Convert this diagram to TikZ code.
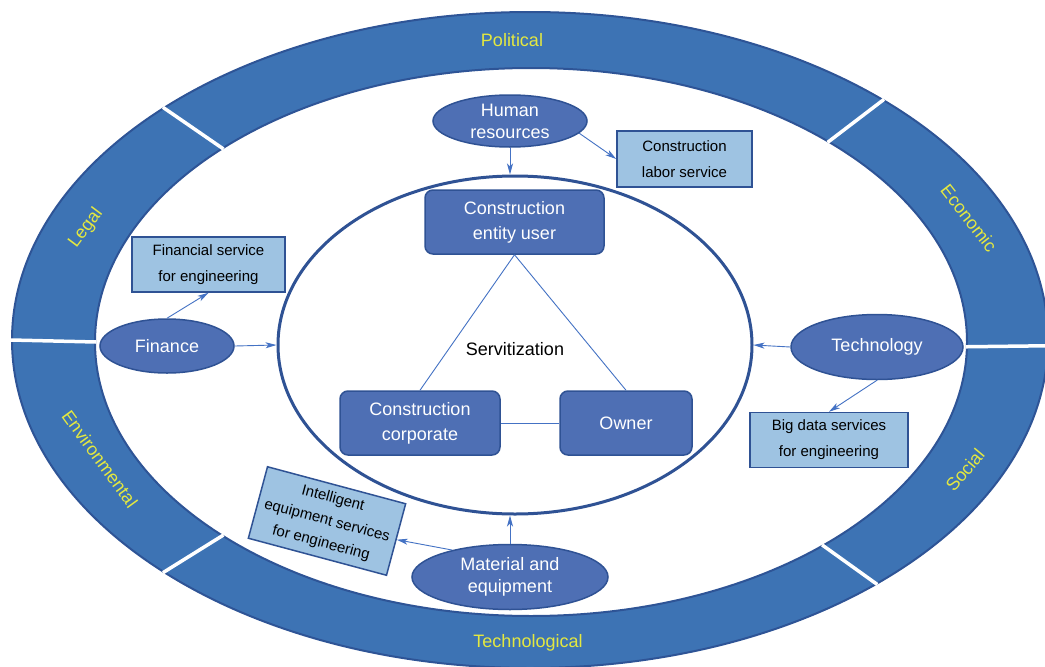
\documentclass[tikz,border=0pt]{standalone}
\usepackage{fontspec}
\setmainfont{Liberation Sans}
\usetikzlibrary{shapes.geometric,arrows.meta}

\definecolor{ringfill}{RGB}{61,115,180}
\definecolor{ringline}{RGB}{46,84,150}
\definecolor{nodefill}{RGB}{78,111,180}
\definecolor{nodeline}{RGB}{47,82,148}
\definecolor{servfill}{RGB}{158,195,226}
\definecolor{linkblue}{RGB}{68,114,196}
\definecolor{ringtext}{RGB}{228,232,64}

\begin{document}
\begin{tikzpicture}[x=1pt,y=-1pt,
  factor/.style={ellipse,fill=nodefill,draw=nodeline,line width=1.5pt,text=white,
    font=\fontsize{18}{22}\selectfont,align=center,inner sep=0pt},
  actor/.style={rectangle,rounded corners=8pt,fill=nodefill,draw=nodeline,line width=1.5pt,
    text=white,font=\fontsize{18}{25}\selectfont,align=center,inner sep=0pt},
  service/.style={rectangle,fill=servfill,draw=nodeline,line width=1.5pt,text=black,
    font=\fontsize{15}{26}\selectfont,align=center,inner sep=0pt},
  link/.style={draw=linkblue,line width=0.9pt,-{Stealth[length=11pt,width=6pt,inset=3pt]}},
  tie/.style={draw=linkblue,line width=0.9pt},
  ringlabel/.style={text=ringtext,font=\fontsize{18}{22}\selectfont,inner sep=0pt},
  gap/.style={draw=white,line width=3.5pt}]

\useasboundingbox (0,0) rectangle (1045,667);

% outer ring of environment factors
\fill[ringfill,draw=ringline,line width=2pt] (530,340) ellipse [x radius=518pt,y radius=328pt];
\fill[white,draw=ringline,line width=2pt] (531,342) ellipse [x radius=436pt,y radius=274pt];

% white separators across the ring
\foreach \t in {135,47,225,312,180,-1}
  \draw[gap] ({530+519*cos(\t)},{340-329*sin(\t)}) -- ({531+435*cos(\t)},{342-273*sin(\t)});

% ring labels
\node[ringlabel] (political) at (512,40) {Political};
\node[ringlabel,rotate=-52] (economic) at (969,218) {Economic};
\node[ringlabel,rotate=50] (social) at (965,470) {Social};
\node[ringlabel] (technological) at (528,643) {Technological};
\node[ringlabel,rotate=-54] (environmental) at (100,459) {Environmental};
\node[ringlabel,rotate=53] (legal) at (86,228) {Legal};

% central servitization ellipse
\node[ellipse,draw=nodeline,line width=3pt,fill=white,minimum width=474pt,minimum height=338pt,inner sep=0pt] (core) at (515,345) {};
\node[font=\fontsize{18}{22}\selectfont,inner sep=0pt] (serv) at (515,349) {Servitization};

% actors inside
\node[actor,minimum width=179pt,minimum height=64pt] (user) at (514.5,222) {Construction\\entity user};
\node[actor,minimum width=160pt,minimum height=64pt] (corp) at (420,423) {Construction\\corporate};
\node[actor,minimum width=132pt,minimum height=64pt] (owner) at (626,423) {Owner};

\draw[tie] (user.south) -- (corp.north);
\draw[tie] (user.south) -- (owner.north);
\draw[tie] (corp.east) -- (owner.west);

% factors
\node[factor,minimum width=154pt,minimum height=52pt] (hr) at (510,121) {Human\\resources};
\node[factor,minimum width=134pt,minimum height=54pt] (fin) at (167,346) {Finance};
\node[factor,minimum width=172pt,minimum height=65pt] (tech) at (877,347) {Technology};
\node[factor,minimum width=196pt,minimum height=65pt] (mat) at (510,577) {Material and\\equipment};

% services
\node[service,minimum width=135pt,minimum height=56pt] (labor) at (684.5,159) {Construction\\labor service};
\node[service,minimum width=153pt,minimum height=55pt] (finserv) at (208.5,264.5) {Financial service\\for engineering};
\node[service,minimum width=158pt,minimum height=55pt] (bigdata) at (829,440) {Big data services\\for engineering};
\node[service,minimum width=143pt,minimum height=74pt,font=\fontsize{15}{23}\selectfont,rotate=-15] (intel) at (327,521) {Intelligent\\equipment services\\for engineering};

% connectors
\draw[link] (hr.south) -- (hr.south |- core.north);
\draw[link] (hr.-10) -- (labor.west);
\draw[link] (fin.north) -- (finserv.south);
\draw[link] (fin.east) -- (core.west);
\draw[link] (tech.west) -- (core.east);
\draw[link] (tech.south) -- (bigdata.north);
\draw[link] (mat.north) -- (mat.north |- core.south);
\draw[link] (mat.155) -- (intel.east);

\end{tikzpicture}
\end{document}
